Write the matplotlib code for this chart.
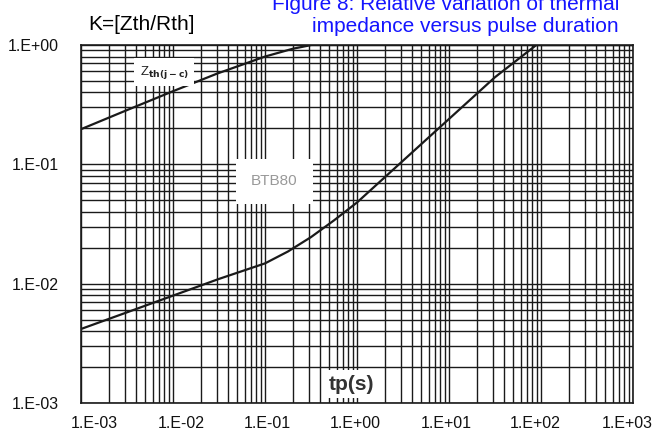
import matplotlib
matplotlib.use("Agg")
import matplotlib.pyplot as plt
import matplotlib.transforms as mtransforms
import numpy as np

plt.rcParams['font.family'] = ['Liberation Sans', 'DejaVu Sans']

# curve: Zth(j-c)
t_jc = [1e-3, 3e-3, 1e-2, 3e-2, 1e-1, 0.2, 0.32, 1e3]
k_jc = [0.197, 0.28, 0.41, 0.575, 0.80, 0.93, 1.0, 1.0]

# curve: lower one (j-a)
t_ja = [1e-3, 3.16e-3, 1e-2, 3.16e-2, 1e-1, 0.178, 0.316, 0.562, 1.0,
        3.16, 10.0, 31.6, 89.0, 1e3]
k_ja = [0.00417, 0.00575, 0.00794, 0.01096, 0.01479, 0.01862, 0.02455, 0.0339,
        0.0479, 0.1072, 0.240, 0.537, 1.0, 1.0]

xticks = [1e-3, 1e-2, 1e-1, 1e0, 1e1, 1e2, 1e3]
xlabels = ["1.E-03", "1.E-02", "1.E-01", "1.E+00", "1.E+01", "1.E+02", "1.E+03"]
yticks = [1e-3, 1e-2, 1e-1, 1e0]
ylabels = ["1.E-03", "1.E-02", "1.E-01", "1.E+00"]

# the scanned labels sit a little off their gridlines (pixels)
xlabel_shift = [13, 8, 2, -2, -3, -6, -6]

fig = plt.figure(figsize=(6.55, 4.34), dpi=100)
ax = fig.add_axes([81/655, 31/434, 552/655, 358/434])

ax.set_xscale('log')
ax.set_yscale('log')
ax.set_xlim(1e-3, 1e3)
ax.set_ylim(1e-3, 1e0)

ax.plot(t_jc, k_jc, color='#1a1a1a', lw=1.6, zorder=3)
ax.plot(t_ja, k_ja, color='#1a1a1a', lw=1.6, zorder=3)

ax.grid(which='both', color='#1a1a1a', lw=1.0)
ax.set_axisbelow(True)
for s in ax.spines.values():
    s.set_color('#1a1a1a')
    s.set_linewidth(1.2)

ax.set_xticks(xticks)
ax.set_xticklabels(xlabels)
ax.set_yticks(yticks)
ax.set_yticklabels(ylabels)
ax.tick_params(which='both', length=0, labelsize=11.5, colors='#111111')
ax.tick_params(axis='x', pad=9)
ax.tick_params(axis='y', pad=16)

for lab, dx in zip(ax.get_xticklabels(), xlabel_shift):
    off = mtransforms.ScaledTranslation(dx/100, 0, fig.dpi_scale_trans)
    lab.set_transform(lab.get_transform() + off)

# labels with white boxes over the grid
ax.text(8e-3, 0.59, r"Z$_{\mathbf{th(j-c)}}$", fontsize=9.5, color='#222222',
        ha='center', va='center', zorder=4,
        bbox=dict(facecolor='white', edgecolor='none', pad=4))
ax.text(0.126, 0.072, "BTB80", fontsize=11, color='#999999',
        ha='center', va='center', zorder=4,
        bbox=dict(facecolor='white', edgecolor='none', boxstyle='square,pad=1.0'))
ax.text(0.88, 1.44e-3, "tp(s)", fontsize=15, fontweight='bold', color='#333333',
        ha='center', va='center', zorder=4,
        bbox=dict(facecolor='white', edgecolor='none', pad=3))

fig.text(88/655, 1 - 30/434, "K=[Zth/Rth]", fontsize=15, color='black',
         ha='left', va='baseline')
fig.text(619/655, 1 - 10/434, "Figure 8: Relative variation of thermal",
         fontsize=15, color='#1414ff', ha='right', va='baseline')
fig.text(619/655, 1 - 32/434, "impedance versus pulse duration",
         fontsize=15, color='#1414ff', ha='right', va='baseline')

fig.savefig("out.png", dpi=100)
